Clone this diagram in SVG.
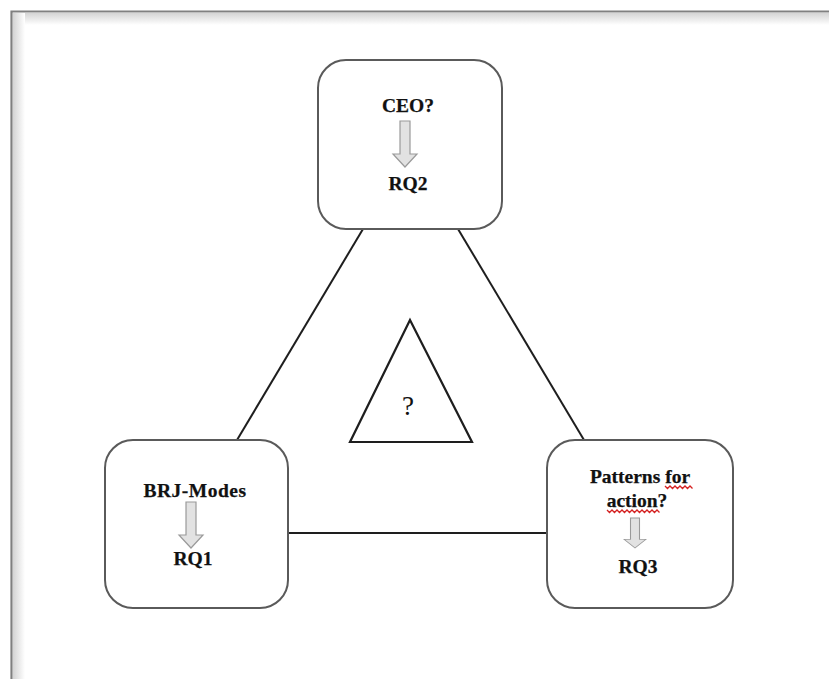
<svg xmlns="http://www.w3.org/2000/svg" width="829" height="679" viewBox="0 0 829 679">
<defs>
<linearGradient id="shTop" x1="0" y1="0" x2="0" y2="1">
<stop offset="0" stop-color="#d4d4d4"/><stop offset="1" stop-color="#ffffff"/>
</linearGradient>
<linearGradient id="shLeft" x1="0" y1="0" x2="1" y2="0">
<stop offset="0" stop-color="#d4d4d4"/><stop offset="1" stop-color="#ffffff"/>
</linearGradient>
<path id="blk" d="M-5,0 H5 V33 H12 L0,46 L-12,33 H-5 Z"/>
</defs>
<style>
.box{fill:#ffffff;stroke:#5a5a5a;stroke-width:2}
.conn{stroke:#1e1e1e;stroke-width:2;fill:none}
.lbl{font-family:"Liberation Serif","Times New Roman",serif;font-weight:bold;font-size:19.5px;fill:#111;stroke:#111;stroke-width:0.25;text-anchor:middle}
.arr{fill:#e2e2e2;stroke:#9a9a9a;stroke-width:1.2}
.wavy{fill:none;stroke:#d42020;stroke-width:1.3}
</style>
<rect width="829" height="679" fill="#ffffff"/>
<g id="page">
<rect x="13" y="13" width="816" height="12" fill="url(#shTop)"/>
<rect x="13" y="13" width="12" height="666" fill="url(#shLeft)"/>
<path d="M11.5,679 V11.5 H829" fill="none" stroke="#808080" stroke-width="2.2"/>
</g>
<g id="connectors">
<line class="conn" x1="363" y1="229" x2="237" y2="440"/>
<line class="conn" x1="458" y1="229" x2="584" y2="440"/>
<line class="conn" x1="288" y1="533" x2="547" y2="533"/>
</g>
<g id="node-ceo">
<rect class="box" x="318" y="60" width="184" height="169" rx="28"/>
<text class="lbl" x="408" y="112">CEO?</text>
<use href="#blk" class="arr" transform="translate(405,121)"/>
<text class="lbl" x="408" y="190">RQ2</text>
</g>
<g id="node-brj">
<rect class="box" x="105" y="440" width="183" height="168" rx="28"/>
<text class="lbl" x="195" y="497" letter-spacing="0.5">BRJ-Modes</text>
<use href="#blk" class="arr" transform="translate(191,502)"/>
<text class="lbl" x="193" y="565">RQ1</text>
</g>
<g id="node-patterns">
<rect class="box" x="547" y="440" width="186" height="168" rx="28"/>
<text class="lbl" x="640" y="483">Patterns for</text>
<text class="lbl" x="637" y="507">action?</text>
<path class="wavy" d="M665,486 l2.5,2.5 l2.5,-2.5 l2.5,2.5 l2.5,-2.5 l2.5,2.5 l2.5,-2.5 l2.5,2.5 l2.5,-2.5 l2.5,2.5 l2.5,-2.5 l2.5,2.5"/>
<path class="wavy" d="M607,510 l2.5,2.5 l2.5,-2.5 l2.5,2.5 l2.5,-2.5 l2.5,2.5 l2.5,-2.5 l2.5,2.5 l2.5,-2.5 l2.5,2.5 l2.5,-2.5 l2.5,2.5 l2.5,-2.5 l2.5,2.5 l2.5,-2.5 l2.5,2.5 l2.5,-2.5 l2.5,2.5 l2.5,-2.5 l2.5,2.5 l2.5,-2.5 l2.5,2.5"/>
<use href="#blk" class="arr" transform="translate(635,518) scale(0.9,0.65)"/>
<text class="lbl" x="638" y="573">RQ3</text>
</g>
<g id="node-question">
<polygon points="410,320 472,442 350,442" fill="#ffffff" stroke="#1e1e1e" stroke-width="2.2" stroke-linejoin="miter"/>
<text x="408" y="415" font-family="'Liberation Serif','Times New Roman',serif" font-size="27" fill="#111" text-anchor="middle">?</text>
</g>
</svg>
